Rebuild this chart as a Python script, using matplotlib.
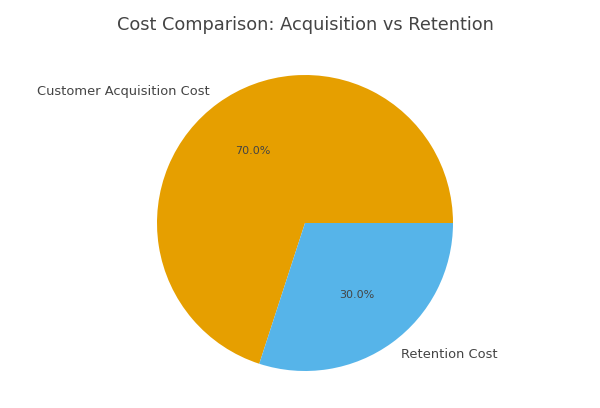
import matplotlib
matplotlib.use("Agg")
import matplotlib.pyplot as plt

labels = ["Customer Acquisition Cost", "Retention Cost"]
shares = [70, 30]
colors = ["#E69F00", "#56B4E9"]

fig = plt.figure(figsize=(6, 4.08), dpi=100)
ax = fig.add_axes([0.2, 0.0, 370 / 600, 370 / 408])
wedges, texts, autotexts = ax.pie(shares, labels=labels, colors=colors,
                                  autopct="%1.1f%%", startangle=0,
                                  textprops={"color": "#444444", "fontsize": 9.4})
for t in autotexts:
    t.set_fontsize(8)
ax.set_xlim(-1.25, 1.25)
ax.set_ylim(-1.25, 1.25)
ax.set_aspect("equal")
fig.text(305 / 600, 1 - 25 / 408, "Cost Comparison: Acquisition vs Retention",
         ha="center", va="center", fontsize=12.8, color="#444444")
fig.savefig("out.png", dpi=100)
